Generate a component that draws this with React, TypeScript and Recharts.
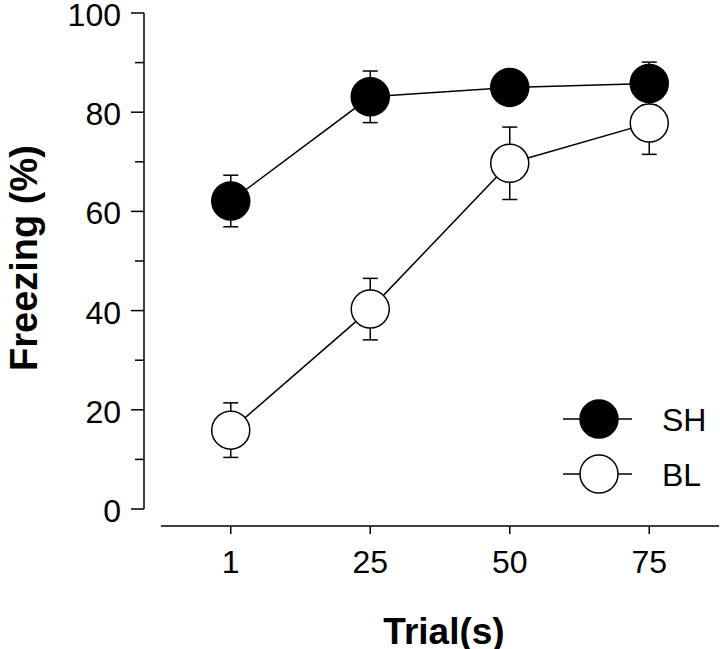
import {
  LineChart,
  Line,
  XAxis,
  YAxis,
  ErrorBar,
  Legend,
  Label,
} from "recharts";

const TRIALS = ["1", "25", "50", "75"];
const SH = [62.1, 83.1, 85.0, 85.8];
const SH_ERR = [5.2, 5.2, 3.0, 4.3];
const BL = [15.9, 40.3, 69.7, 77.8];
const BL_ERR = [5.5, 6.2, 7.3, 6.3];
const Y_TICKS = [0, 10, 20, 30, 40, 50, 60, 70, 80, 90, 100];

const SERIES = [
  { key: "sh", name: "SH", fill: "#000" },
  { key: "bl", name: "BL", fill: "#fff" },
];

const data = TRIALS.map((t, i) => ({
  idx: i,
  trial: t,
  sh: SH[i],
  shErr: SH_ERR[i],
  bl: BL[i],
  blErr: BL_ERR[i],
}));

const FONT = "'Liberation Sans', Arial, Helvetica, sans-serif";

function YTick(props: any) {
  const { x, y, payload } = props;
  const major = payload.value % 20 === 0;
  return (
    <g>
      <line x1={x - (major ? 13 : 9)} x2={x} y1={y} y2={y} stroke="#000" strokeWidth={1.5} />
      {major && (
        <text x={x - 23} y={y + 13} textAnchor="end" fontSize={32} fontFamily={FONT} fill="#000">
          {payload.value}
        </text>
      )}
    </g>
  );
}

function XTick(props: any) {
  const { x, y, payload } = props;
  return (
    <g>
      <line x1={x} x2={x} y1={y} y2={y + 8} stroke="#000" strokeWidth={1.5} />
      <text x={x} y={y + 47} textAnchor="middle" fontSize={32} fontFamily={FONT} fill="#000">
        {TRIALS[payload.value]}
      </text>
    </g>
  );
}

function renderLegend() {
  return (
    <svg width={165} height={110} style={{ display: "block" }}>
      {SERIES.map((s, i) => {
        const cy = 24 + i * 55;
        return (
          <g key={s.key}>
            <line x1={8} x2={77} y1={cy} y2={cy} stroke="#000" strokeWidth={1.5} />
            <circle cx={44} cy={cy} r={19} fill={s.fill} stroke="#000" strokeWidth={1.5} />
            <text x={107} y={cy + 12} fontSize={32} fontFamily={FONT} fill="#000">
              {s.name}
            </text>
          </g>
        );
      })}
    </svg>
  );
}

export default function App() {
  return (
    <div style={{ position: "absolute", left: 0, top: 0, background: "#fff" }}>
      <LineChart
        width={720}
        height={649}
        data={data}
        margin={{ top: 13, right: 1, left: 0, bottom: 0 }}
        style={{ fontFamily: FONT }}
      >
        <XAxis
          dataKey="idx"
          type="number"
          domain={[-0.5, 3.5]}
          ticks={[0, 1, 2, 3]}
          interval={0}
          padding={{ left: 17, right: 0 }}
          height={123}
          tickSize={0}
          tickMargin={0}
          tickLine={false}
          tick={<XTick />}
          axisLine={{ stroke: "#000", strokeWidth: 1.5, strokeDasharray: "0 17 700" }}
        >
          <Label
            content={(p: any) => (
              <text
                x={p.viewBox.x + 300}
                y={p.viewBox.y + 118}
                textAnchor="middle"
                fontSize={37}
                fontWeight="bold"
                fontFamily={FONT}
                fill="#000"
              >
                Trial(s)
              </text>
            )}
          />
        </XAxis>
        <YAxis
          domain={[0, 100]}
          ticks={Y_TICKS}
          interval={0}
          padding={{ top: 0, bottom: 17 }}
          width={144}
          tickSize={0}
          tickMargin={0}
          tickLine={false}
          tick={<YTick />}
          axisLine={{ stroke: "#000", strokeWidth: 1.5, strokeDasharray: "496 200" }}
        >
          <Label
            content={() => {
              const cx = 37;
              const cy = 258;
              return (
                <text
                  x={cx}
                  y={cy}
                  transform={`rotate(-90 ${cx} ${cy})`}
                  textAnchor="middle"
                  fontSize={38}
                  fontWeight="bold"
                  fontFamily={FONT}
                  fill="#000"
                >
                  Freezing (%)
                </text>
              );
            }}
          />
        </YAxis>
        <Legend
          layout="horizontal"
          align="center"
          verticalAlign="middle"
          content={renderLegend}
          wrapperStyle={{ left: 555, top: 395, width: 165, bottom: "auto" }}
        />
        {SERIES.map((s) => (
          <Line
            key={s.key}
            dataKey={s.key}
            name={s.name}
            stroke="#000"
            strokeWidth={1.5}
            dot={{ r: 19, fill: s.fill, stroke: "#000", strokeWidth: 1.5 }}
            activeDot={false}
            isAnimationActive={false}
          >
            <ErrorBar dataKey={s.key + "Err"} direction="y" width={7.5} stroke="#000" strokeWidth={1.5} />
          </Line>
        ))}
      </LineChart>
    </div>
  );
}
